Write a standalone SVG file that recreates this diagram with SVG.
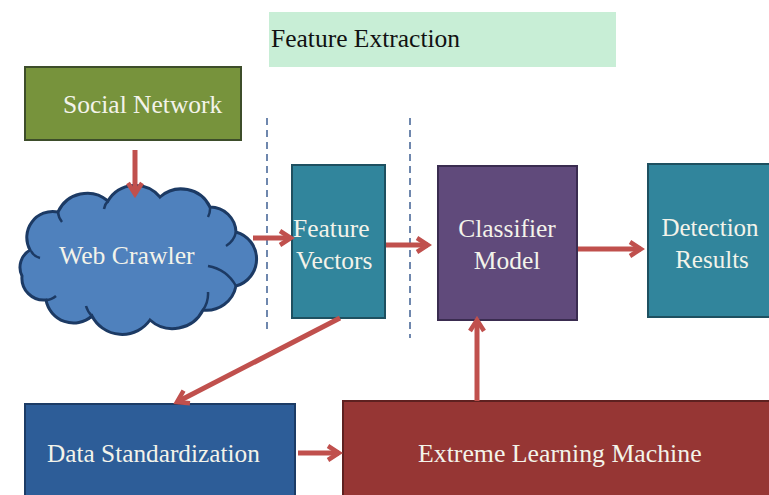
<svg xmlns="http://www.w3.org/2000/svg" width="769" height="495" viewBox="0 0 769 495">
<defs>
<style>
.t{fill:#f3f3ea;}
.dark{fill:#111;}
.box{stroke-width:2;}
.conn{stroke:#c0504d;stroke-width:5;fill:none;}
.dash{stroke:#4b6a9a;stroke-width:1.6;stroke-dasharray:7 5;fill:none;}
</style>
<marker id="ah" viewBox="0 0 20 20" refX="16" refY="10" markerWidth="20" markerHeight="20" markerUnits="userSpaceOnUse" orient="auto">
<path d="M5,3 L16,10 L5,17" fill="none" stroke="#c0504d" stroke-width="4.5" stroke-linejoin="miter"/>
</marker>
</defs>
<rect width="769" height="495" fill="#ffffff"/>

<g id="feature-extraction" font-family="'Liberation Serif', serif">
<rect x="269" y="12" width="347" height="55" fill="#c8eed6"/>
<text x="271" y="47" class="dark" font-size="25.5">Feature Extraction</text>
</g>

<g id="social-network" font-family="'Liberation Serif', serif">
<rect x="25" y="67" width="216" height="73" fill="#77933c" stroke="#3d4d2a" class="box"/>
<text x="63" y="113" class="t" font-size="25.5" fill="#eef0d0">Social Network</text>
</g>

<g id="web-crawler" font-family="'Liberation Serif', serif">
<path d="M30,250 A26,26 0 0 1 58,212 A32,32 0 0 1 108,201 A32,32 0 0 1 160,197 A32,32 0 0 1 210,207 A26,26 0 0 1 236,232 A28,28 0 0 1 236,286 A30,30 0 0 1 203,310 A34,34 0 0 1 150,320 A34,34 0 0 1 92,316 A28,28 0 0 1 46,300 A22,22 0 0 1 22,276 A20,20 0 0 1 30,250 Z" fill="#4f81bd" stroke="#1c3a64" stroke-width="3"/>
<path d="M31,251 A14,14 0 0 0 40,258 M58,212 A18,18 0 0 0 62,222 M108,201 A14,14 0 0 0 104,209 M210,207 A18,18 0 0 1 208,217 M236,232 A22,22 0 0 1 226,246 M236,286 A40,40 0 0 0 208,266 M203,310 A28,28 0 0 0 208,292 M92,316 A22,22 0 0 1 86,306 M46,300 A16,16 0 0 0 56,296" fill="none" stroke="#1c3a64" stroke-width="2.5"/>
<text x="59" y="264" class="t" font-size="25.7">Web Crawler</text>
</g>

<g id="feature-vectors" font-family="'Liberation Serif', serif">
<rect x="292" y="165" width="93" height="153" fill="#31859c" stroke="#1e5060" class="box"/>
<text x="293" y="237" class="t" font-size="25.5">Feature</text>
<text x="296" y="269" class="t" font-size="25.5">Vectors</text>
</g>

<g id="classifier-model" font-family="'Liberation Serif', serif">
<rect x="438" y="166" width="139" height="154" fill="#604a7b" stroke="#3a2c50" class="box"/>
<text x="507" y="237" class="t" font-size="25.5" text-anchor="middle">Classifier</text>
<text x="507" y="269" class="t" font-size="25.5" text-anchor="middle">Model</text>
</g>

<g id="detection-results" font-family="'Liberation Serif', serif">
<rect x="648" y="164" width="130" height="153" fill="#31859c" stroke="#1e5060" class="box"/>
<text x="710" y="236" class="t" font-size="25" text-anchor="middle">Detection</text>
<text x="712" y="268" class="t" font-size="25" text-anchor="middle">Results</text>
</g>

<g id="data-standardization" font-family="'Liberation Serif', serif">
<rect x="25" y="404" width="270" height="100" fill="#2d5d98" stroke="#1c3c66" class="box"/>
<text x="47" y="462" class="t" font-size="25.3">Data Standardization</text>
</g>

<g id="extreme-learning-machine" font-family="'Liberation Serif', serif">
<rect x="343" y="401" width="440" height="100" fill="#963634" stroke="#5e2120" class="box"/>
<text x="418" y="462" class="t" font-size="25.8">Extreme Learning Machine</text>
</g>

<g id="separators">
<line x1="267" y1="118" x2="267" y2="332" class="dash"/>
<line x1="410" y1="118" x2="410" y2="338" class="dash"/>
</g>

<g id="connectors">
<line x1="135" y1="150" x2="135" y2="194" class="conn" marker-end="url(#ah)"/>
<line x1="253" y1="238" x2="291" y2="238" class="conn" marker-end="url(#ah)"/>
<line x1="386" y1="245" x2="428" y2="245" class="conn" marker-end="url(#ah)"/>
<line x1="578" y1="249" x2="641" y2="249" class="conn" marker-end="url(#ah)"/>
<line x1="340" y1="318" x2="177" y2="402" class="conn" marker-end="url(#ah)"/>
<line x1="298" y1="453" x2="339" y2="453" class="conn" marker-end="url(#ah)"/>
<line x1="477" y1="401" x2="477" y2="320" class="conn" marker-end="url(#ah)"/>
</g>
</svg>
